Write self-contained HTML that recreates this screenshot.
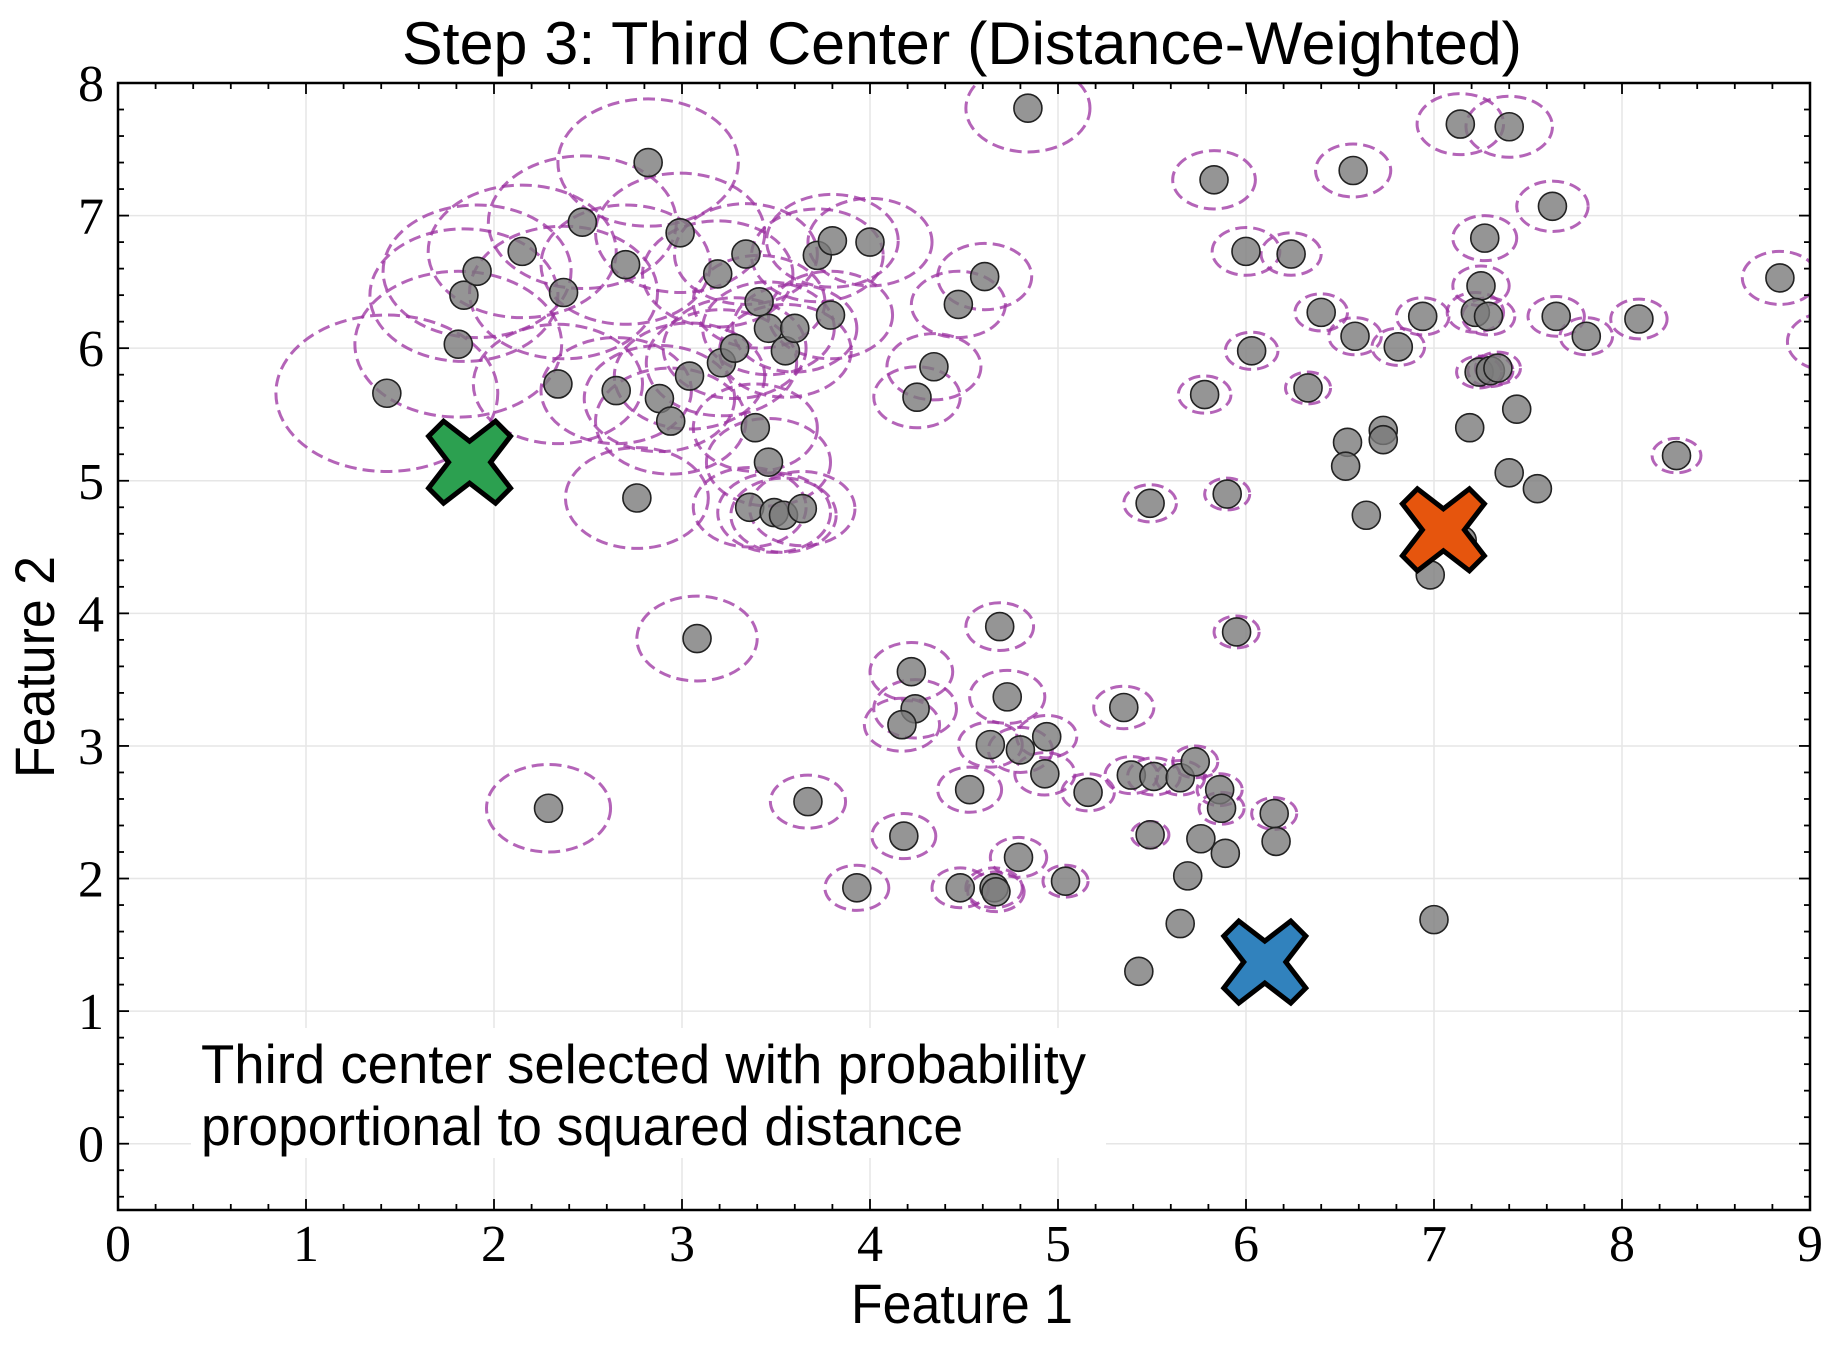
<!DOCTYPE html>
<html><head><meta charset="utf-8"><style>
html,body{margin:0;padding:0;background:#fff;}
svg{display:block;}
</style></head><body>
<svg id="chart" width="1836" height="1350" viewBox="0 0 1836 1350" xmlns="http://www.w3.org/2000/svg">
<defs><clipPath id="plotclip"><rect x="118" y="83" width="1692" height="1127"/></clipPath></defs>
<rect x="0" y="0" width="1836" height="1350" fill="#fff"/>
<g id="grid"></g>
<g clip-path="url(#plotclip)">
<g id="circles"></g>
<g id="points"></g>
<g id="centers"></g>
</g>
<g id="axes"></g>
</svg>
<script>
const xs = [1.43,1.81,1.84,1.91,2.15,2.37,2.47,2.34,2.70,2.82,2.65,2.88,2.94,2.99,3.04,3.19,3.21,3.28,3.34,3.41,3.46,3.55,3.60,3.39,3.46,2.76,3.36,3.49,3.54,3.64,3.72,3.80,4.00,3.79,4.47,4.61,4.34,4.25,4.84,3.08,2.29,3.67,3.93,4.18,4.22,4.24,4.17,4.69,4.73,4.53,4.64,4.80,4.94,4.93,5.16,4.79,4.48,4.66,4.67,5.04,5.35,5.39,5.51,5.65,5.73,5.86,5.87,5.49,5.76,5.69,5.89,6.15,6.16,5.65,5.43,7.00,5.49,5.90,5.95,5.78,6.03,6.33,5.83,6.00,6.24,6.40,6.58,6.57,6.81,6.94,7.14,7.40,7.27,7.25,7.22,7.29,7.24,7.30,7.34,7.63,7.65,7.81,8.09,8.84,9.10,8.29,7.44,7.19,6.54,6.73,6.73,6.53,6.64,7.40,7.55,6.98,7.15];
const ys = [5.66,6.03,6.40,6.58,6.73,6.42,6.95,5.73,6.63,7.40,5.68,5.62,5.45,6.87,5.79,6.56,5.89,6.00,6.71,6.35,6.15,5.98,6.15,5.40,5.14,4.87,4.80,4.76,4.74,4.79,6.70,6.81,6.80,6.25,6.33,6.54,5.86,5.63,7.81,3.81,2.53,2.58,1.93,2.32,3.56,3.28,3.16,3.90,3.37,2.67,3.01,2.97,3.07,2.79,2.65,2.16,1.93,1.93,1.90,1.98,3.29,2.78,2.77,2.76,2.88,2.67,2.53,2.33,2.30,2.02,2.19,2.49,2.28,1.66,1.30,1.69,4.83,4.90,3.86,5.65,5.98,5.70,7.27,6.73,6.71,6.27,6.09,7.34,6.01,6.24,7.69,7.67,6.83,6.47,6.27,6.24,5.82,5.83,5.85,7.07,6.24,6.09,6.22,6.53,6.05,5.19,5.54,5.40,5.29,5.38,5.31,5.11,4.74,5.06,4.94,4.29,4.55];
const radii = [0.59,0.55,0.5,0.5,0.5,0.5,0.5,0.45,0.45,0.48,0.4,0.4,0.4,0.45,0.4,0.4,0.4,0.38,0.38,0.35,0.35,0.35,0.33,0.33,0.33,0.38,0.3,0.3,0.28,0.28,0.35,0.35,0.33,0.33,0.25,0.25,0.25,0.23,0.33,0.32,0.33,0.2,0.17,0.17,0.22,0.22,0.2,0.18,0.2,0.17,0.17,0.17,0.16,0.16,0.14,0.15,0.15,0.15,0.15,0.12,0.16,0.14,0.14,0.13,0.12,0.12,0.12,0.1,0,0,0,0.12,0,0,0,0,0.14,0.12,0.12,0.14,0.14,0.12,0.22,0.18,0.16,0.14,0.14,0.2,0.14,0.14,0.23,0.23,0.17,0.15,0.15,0.14,0.12,0.12,0.12,0.19,0.15,0.14,0.15,0.2,0.22,0.13,0,0,0,0,0,0,0,0,0,0,0];
const centerXs = [1.87,7.05,6.10];
const centerYs = [5.14,4.63,1.37];
const centerColors = ["#2ca050","#e6550d","#3182bd"];
const xTicks = [0,1,2,3,4,5,6,7,8,9];
const yTicks = [0,1,2,3,4,5,6,7,8];

const L=118,R=1810,T=83,B=1210;
const X0=0,X1=9,Y0=-0.5,Y1=8;
function sx(v){return L+(v-X0)/(X1-X0)*(R-L);}
function sy(v){return B-(v-Y0)/(Y1-Y0)*(B-T);}
const NS="http://www.w3.org/2000/svg";
function mk(tag,attrs,parent){const e=document.createElementNS(NS,tag);for(const k in attrs)e.setAttribute(k,attrs[k]);parent.appendChild(e);return e;}

const grid=document.getElementById('grid');
xTicks.forEach(t=>{const l=mk('line',{x1:sx(t),x2:sx(t),y1:T,y2:B,stroke:'#e6e6e6','stroke-width':1.5},grid);

});
yTicks.forEach(t=>{const l=mk('line',{x1:L,x2:R,y1:sy(t),y2:sy(t),stroke:'#e6e6e6','stroke-width':1.5},grid);

});

const cg=document.getElementById('circles');
const pxPerX=(R-L)/(X1-X0), pxPerY=(B-T)/(Y1-Y0);
xs.forEach((x,i)=>{if(radii[i]<=0)return;
const e=mk('ellipse',{cx:sx(x),cy:sy(ys[i]),rx:radii[i]*pxPerX,ry:radii[i]*pxPerY,fill:'none',stroke:'#9b30a0','stroke-opacity':0.75,'stroke-width':3,'stroke-dasharray':'12 6'},cg);

});

const pg=document.getElementById('points');
xs.forEach((x,i)=>{const c=mk('ellipse',{cx:sx(x),cy:sy(ys[i]),rx:14,ry:14,fill:'#7a7a7a','fill-opacity':0.8,stroke:'#222','stroke-width':1.6},pg);

});

const ctr=document.getElementById('centers');
const s=41,w=15;
centerXs.forEach((x,i)=>{const cx=sx(x),cy=sy(centerYs[i]);
const d=`M${cx-s+w} ${cy-s} L${cx} ${cy-w*1.4} L${cx+s-w} ${cy-s} L${cx+s} ${cy-s+w} L${cx+w*1.4} ${cy} L${cx+s} ${cy+s-w} L${cx+s-w} ${cy+s} L${cx} ${cy+w*1.4} L${cx-s+w} ${cy+s} L${cx-s} ${cy+s-w} L${cx-w*1.4} ${cy} L${cx-s} ${cy-s+w} Z`;
const p=mk('path',{d:d,fill:centerColors[i],stroke:'#000','stroke-width':5,'stroke-linejoin':'miter'},ctr);

});

const ax=document.getElementById('axes');
const frame=mk('rect',{x:L,y:T,width:R-L,height:B-T,fill:'none',stroke:'#000','stroke-width':2.5},ax);


for(let v=0;v<=9.001;v+=0.2){const X=sx(v);const major=Math.abs(v-Math.round(v))<1e-6;const len=major?11:6;
mk('line',{x1:X,x2:X,y1:B,y2:B-len,stroke:'#000','stroke-width':1.8},ax);
mk('line',{x1:X,x2:X,y1:T,y2:T+len,stroke:'#000','stroke-width':1.8},ax);}
for(let v=-0.4;v<=8.001;v+=0.2){const Y=sy(v);const major=Math.abs(v-Math.round(v))<1e-6;const len=major?11:6;
mk('line',{x1:L,x2:L+len,y1:Y,y2:Y,stroke:'#000','stroke-width':1.8},ax);
mk('line',{x1:R,x2:R-len,y1:Y,y2:Y,stroke:'#000','stroke-width':1.8},ax);}
xTicks.forEach(t=>{const e=mk('text',{x:sx(t),y:1261,'text-anchor':'middle','font-family':'"Liberation Serif",serif','font-size':52,fill:'#000'},ax);e.textContent=t;

});
yTicks.forEach(t=>{const e=mk('text',{x:104,y:sy(t)+18,'text-anchor':'end','font-family':'"Liberation Serif",serif','font-size':52,fill:'#000'},ax);e.textContent=t;

});
</script>
<svg style="position:absolute;left:0;top:0" width="1836" height="1350" viewBox="0 0 1836 1350" xmlns="http://www.w3.org/2000/svg">
<rect x="191" y="1028" width="915" height="130" fill="#fff"/>
<text x="201" y="1083" font-family="'Liberation Sans',sans-serif" font-size="55" textLength="885" lengthAdjust="spacingAndGlyphs">Third center selected with probability</text>
<text x="201" y="1145" font-family="'Liberation Sans',sans-serif" font-size="55" textLength="762" lengthAdjust="spacingAndGlyphs">proportional to squared distance</text>
<text x="962" y="64" text-anchor="middle" font-family="'Liberation Sans',sans-serif" font-size="60" textLength="1120" lengthAdjust="spacingAndGlyphs">Step 3: Third Center (Distance-Weighted)</text>
<text x="962" y="1323" text-anchor="middle" font-family="'Liberation Sans',sans-serif" font-size="56" textLength="222" lengthAdjust="spacingAndGlyphs">Feature 1</text>
<text x="0" y="0" transform="translate(54,667) rotate(-90)" text-anchor="middle" font-family="'Liberation Sans',sans-serif" font-size="56" textLength="222" lengthAdjust="spacingAndGlyphs">Feature 2</text>
</svg>
</body></html>
